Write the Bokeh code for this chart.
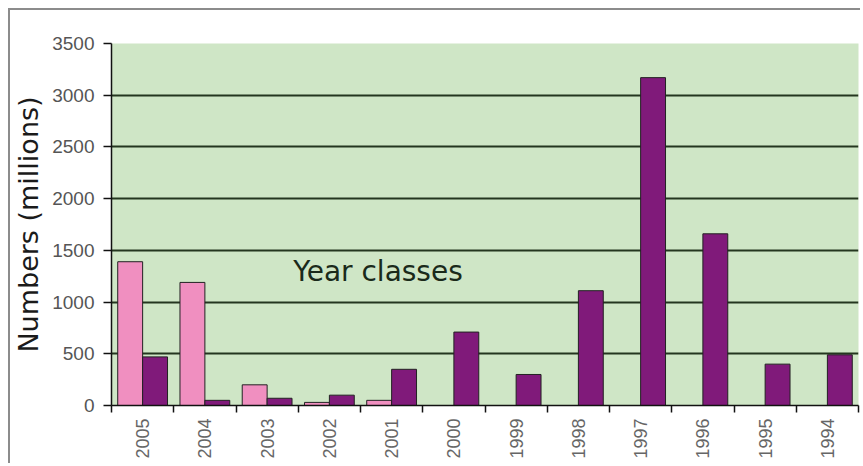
from bokeh.plotting import figure
from bokeh.models import ColumnDataSource, FixedTicker, Label, Range1d
from bokeh.transform import dodge
from bokeh.embed import file_html
from bokeh.resources import INLINE
import math

# ---- data ----
years = ["2005", "2004", "2003", "2002", "2001", "2000", "1999", "1998", "1997", "1996", "1995", "1994"]
juvenile = [1390, 1190, 200, 30, 50, None, None, None, None, None, None, None]
adult = [470, 50, 70, 100, 350, 710, 300, 1110, 3170, 1660, 400, 490]
y_ticks = [0, 500, 1000, 1500, 2000, 2500, 3000, 3500]

nan = float("nan")
centers = [i + 0.5 for i in range(len(years))]
src = ColumnDataSource(dict(
    c=centers,
    juv=[nan if v is None else v for v in juvenile],
    adu=adult,
))

p = figure(width=852, height=455, output_backend="svg", toolbar_location=None,
           x_range=Range1d(0, len(years)), y_range=Range1d(0, 3500),
           min_border_left=99, min_border_right=4, min_border_top=33, min_border_bottom=60)
p.styles = {"margin-left": "8px", "margin-top": "8px",
            "border-left": "2px solid #8c8c8c", "border-top": "2px solid #8c8c8c"}

p.background_fill_color = "#cfe6c6"
p.border_fill_color = "white"
p.outline_line_color = None

# bars
p.vbar(x=dodge("c", -0.2), top="juv", width=0.4, source=src,
       fill_color="#f08fc0", line_color="#222222", line_width=1)
p.vbar(x=dodge("c", 0.2), top="adu", width=0.4, source=src,
       fill_color="#801a7a", line_color="#222222", line_width=1)

# grid
p.xgrid.grid_line_color = None
p.ygrid.ticker = FixedTicker(ticks=y_ticks[1:-1])
p.ygrid.grid_line_color = "#24361f"
p.ygrid.grid_line_width = 2

# y axis
p.yaxis.ticker = FixedTicker(ticks=y_ticks)
p.yaxis.axis_label = "Numbers (millions)"
p.yaxis.axis_label_text_font = "DejaVu Sans"
p.yaxis.axis_label_text_font_size = "27px"
p.yaxis.axis_label_text_font_style = "normal"
p.yaxis.axis_label_text_color = "#1a1a1a"
p.yaxis.axis_label_standoff = 5
p.yaxis.major_label_text_font = "Liberation Sans"
p.yaxis.major_label_text_font_size = "19px"
p.yaxis.major_label_text_color = "#555555"
p.yaxis.major_label_standoff = 9
p.yaxis.major_tick_in = 0
p.yaxis.major_tick_out = 8
p.yaxis.minor_tick_line_color = None
p.yaxis.axis_line_color = "#111111"
p.yaxis.axis_line_width = 1.5
p.yaxis.major_tick_line_color = "#111111"
p.yaxis.major_tick_line_width = 1.5

# x axis: labels at category centres, ticks at category boundaries
p.xaxis.ticker = FixedTicker(ticks=centers, minor_ticks=list(range(len(years) + 1)))
p.xaxis.major_label_overrides = {c: y for c, y in zip(centers, years)}
p.xaxis.major_label_orientation = math.pi / 2
p.xaxis.major_label_text_font = "Liberation Sans"
p.xaxis.major_label_text_font_size = "18px"
p.xaxis.major_label_text_color = "#666666"
p.xaxis.major_tick_line_color = None
p.xaxis.major_tick_in = 0
p.xaxis.major_tick_out = 0
p.xaxis.major_label_standoff = 6
p.xaxis.minor_tick_in = 0
p.xaxis.minor_tick_out = 7
p.xaxis.minor_tick_line_color = "#111111"
p.xaxis.minor_tick_line_width = 1.5
p.xaxis.axis_line_color = "#111111"
p.xaxis.axis_line_width = 1.5

p.add_layout(Label(x=2.92, y=1300, text="Year classes", text_font="DejaVu Sans",
                   text_font_size="28px", text_color="#1a2a1a", text_baseline="middle"))

open("out.html", "w").write(file_html(p, INLINE))
